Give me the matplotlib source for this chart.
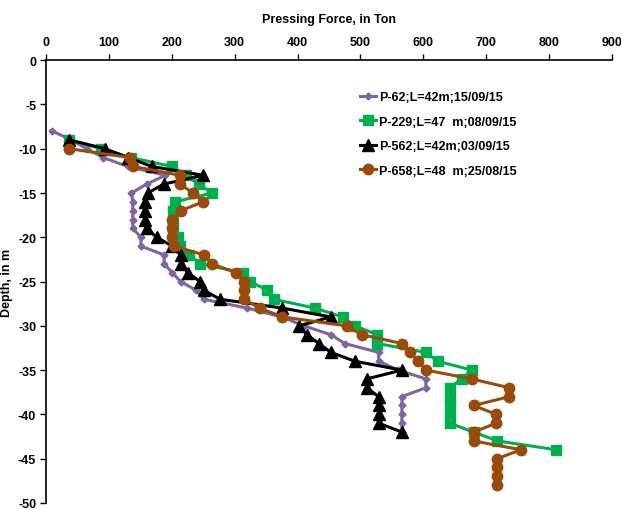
#!/usr/bin/env python3
"""
Pile pressing force vs depth chart (four piles).
"""

import matplotlib
matplotlib.use("Agg")
import matplotlib.pyplot as plt

# depth (m, negative downwards) and pressing force (ton) for each pile
p62_depth = list(range(-8, -43, -1))
p62_force = [10, 40, 65, 91, 130, 190, 160, 136, 138, 138, 138, 138, 151, 151,
             188, 188, 201, 214, 239, 251, 320, 375, 410, 453, 475, 529, 529,
             560, 604, 604, 566, 566, 566, 566, 566]

p229_depth = list(range(-9, -45, -1))
p229_force = [37, 88, 135, 200, 222, 243, 264, 205, 202, 202, 202, 210, 213,
              228, 245, 314, 325, 352, 362, 428, 472, 491, 527, 527, 604, 623,
              677, 661, 642, 642, 642, 642, 642, 680, 718, 811]

p562_depth = list(range(-9, -43, -1))
p562_force = [37, 94, 131, 168, 250, 187, 162, 157, 157, 157, 160, 176, 201,
              214, 214, 226, 245, 251, 277, 376, 453, 403, 415, 434, 453, 491,
              566, 510, 510, 529, 529, 529, 529, 566]

p658_depth = list(range(-10, -49, -1))
p658_force = [37, 134, 139, 213, 213, 234, 250, 214, 201, 201, 201, 204, 251,
              264, 302, 315, 315, 315, 340, 376, 478, 502, 566, 579, 592, 604,
              677, 737, 737, 680, 716, 716, 680, 680, 755, 718, 718, 718, 718]

labels = ["P-62;L=42m;15/09/15", "P-229;L=47  m;08/09/15",
          "P-562;L=42m;03/09/15", "P-658;L=48  m;25/08/15"]

x_ticks = list(range(0, 1000, 100))
y_ticks = list(range(0, -55, -5))


def main():
    plt.rcParams['font.family'] = ['Liberation Sans', 'DejaVu Sans']
    plt.rcParams['axes.unicode_minus'] = False
    fig = plt.figure(figsize=(6.21, 5.10), dpi=100)
    ax = fig.add_axes([0.074, 0.012, 0.9114, 0.868])

    lw = 2.2
    ax.plot(p62_force, p62_depth, color='#8064A2', lw=lw, marker='D',
            markersize=3.5, label=labels[0])
    ax.plot(p229_force, p229_depth, color='#00B050', lw=lw, marker='s',
            markersize=6.5, label=labels[1])
    ax.plot(p562_force, p562_depth, color='black', lw=lw, marker='^',
            markersize=8, label=labels[2])
    ax.plot(p658_force, p658_depth, color='#9A4A0B', lw=lw, marker='o',
            markersize=7.5, label=labels[3])

    ax.set_xlim(0, 900)
    ax.set_ylim(-50, 0)
    ax.set_xticks(x_ticks)
    ax.set_yticks(y_ticks)
    ax.xaxis.tick_top()
    ax.xaxis.set_label_position('top')
    ax.tick_params(axis='both', labelsize=9, length=4, width=1, direction='out')
    ax.tick_params(axis='x', pad=5)
    ax.tick_params(axis='y', pad=3)
    for lab in ax.get_xticklabels() + ax.get_yticklabels():
        lab.set_fontweight('bold')

    ax.spines['right'].set_visible(False)
    ax.spines['bottom'].set_visible(False)
    ax.spines['top'].set_linewidth(1.2)
    ax.spines['left'].set_linewidth(1.2)

    ax.set_xlabel('Pressing Force, in Ton', fontsize=9, fontweight='bold',
                  labelpad=10)
    ax.set_ylabel('Depth, in m', fontsize=9, fontweight='bold')
    ax.yaxis.set_label_coords(-0.058, 0.5)

    ax.legend(loc='upper left', bbox_to_anchor=(0.535, 0.955), frameon=False,
              prop={'weight': 'bold', 'size': 9},
              handlelength=1.3, handletextpad=0.2, labelspacing=1.0)

    fig.savefig('out.png', dpi=100)


if __name__ == "__main__":
    main()
